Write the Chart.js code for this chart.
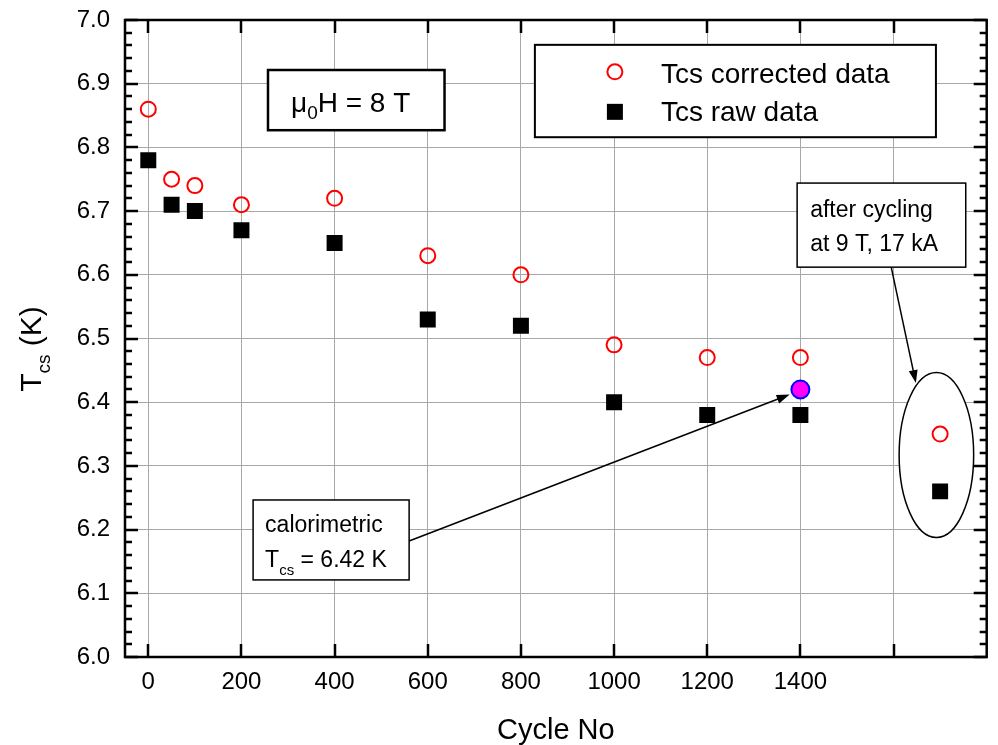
<!DOCTYPE html>
<html>
<head>
<meta charset="utf-8">
<script src="https://cdn.jsdelivr.net/npm/chart.js@4"></script>
<style>
  html, body { margin: 0; padding: 0; background: #fff; }
  #wrap { width: 998px; height: 745px; }
</style>
</head>
<body>
<div id="wrap"><canvas id="chart" width="998" height="745"></canvas></div>
<script>
// ── Data ─────────────────────────────────────────────────────────────────────
const cycles = [0, 50, 100, 200, 400, 600, 800, 1000, 1200, 1400, 1700];
const tcsCorrected = [6.86, 6.75, 6.74, 6.71, 6.72, 6.63, 6.60, 6.49, 6.47, 6.47, 6.35];
const tcsRaw = [6.78, 6.71, 6.70, 6.67, 6.65, 6.53, 6.52, 6.40, 6.38, 6.38, 6.26];
const calorimetricCycle = [1400];
const calorimetricTcs = [6.42];

const xTickValues = [0, 200, 400, 600, 800, 1000, 1200, 1400, 1600];
const xTickLabels = ['0', '200', '400', '600', '800', '1000', '1200', '1400', ''];
const yTickValues = [6.0, 6.1, 6.2, 6.3, 6.4, 6.5, 6.6, 6.7, 6.8, 6.9, 7.0];

const FONT = "'Liberation Sans', Arial, sans-serif";

// ── Helpers ──────────────────────────────────────────────────────────────────
function richText(ctx, parts, x, y) {
  // parts: [{t, size, dy}] drawn left to right from x on baseline y
  let cx = x;
  for (const p of parts) {
    ctx.font = `${p.size}px ${FONT}`;
    ctx.fillText(p.t, cx, y + (p.dy || 0));
    cx += ctx.measureText(p.t).width;
  }
  return cx - x;
}

function richWidth(ctx, parts) {
  let w = 0;
  for (const p of parts) {
    ctx.font = `${p.size}px ${FONT}`;
    w += ctx.measureText(p.t).width;
  }
  return w;
}

function arrow(ctx, x1, y1, x2, y2) {
  const a = Math.atan2(y2 - y1, x2 - x1);
  const len = 13, half = 4.5;
  ctx.beginPath();
  ctx.moveTo(x1, y1);
  ctx.lineTo(x2 - Math.cos(a) * len * 0.8, y2 - Math.sin(a) * len * 0.8);
  ctx.stroke();
  ctx.beginPath();
  ctx.moveTo(x2, y2);
  ctx.lineTo(x2 - Math.cos(a) * len + Math.sin(a) * half, y2 - Math.sin(a) * len - Math.cos(a) * half);
  ctx.lineTo(x2 - Math.cos(a) * len - Math.sin(a) * half, y2 - Math.sin(a) * len + Math.cos(a) * half);
  ctx.closePath();
  ctx.fill();
}

function box(ctx, x1, y1, x2, y2, lw) {
  ctx.fillStyle = '#fff';
  ctx.fillRect(x1, y1, x2 - x1, y2 - y1);
  ctx.lineWidth = lw;
  ctx.strokeStyle = '#000';
  ctx.strokeRect(x1, y1, x2 - x1, y2 - y1);
}

// ── Annotations (behind the points) ──────────────────────────────────────────
const annotations = {
  id: 'annotations',
  beforeDatasetsDraw(chart) {
    const { ctx, scales: { x, y } } = chart;
    const X = v => x.getPixelForValue(v);
    const Y = v => y.getPixelForValue(v);
    ctx.save();
    ctx.fillStyle = '#000';
    ctx.textBaseline = 'alphabetic';
    ctx.textAlign = 'left';

    // μ0H = 8 T
    let l = X(257), t = Y(6.9215);
    box(ctx, l, t, X(636), Y(6.827), 2.5);
    ctx.fillStyle = '#000';
    richText(ctx, [
      { t: 'μ', size: 28 },
      { t: '0', size: 19, dy: 7 },
      { t: 'H = 8 T', size: 28 }
    ], l + 23, t + 42);

    // legend
    l = X(830); t = Y(6.961);
    box(ctx, l, t, X(1691), Y(6.816), 2);
    ctx.lineWidth = 2;
    ctx.strokeStyle = '#ff0000';
    ctx.beginPath();
    ctx.arc(l + 80, t + 27, 7.5, 0, Math.PI * 2);
    ctx.stroke();
    ctx.fillStyle = '#000';
    ctx.fillRect(l + 72, t + 59, 16, 16);
    ctx.font = `28px ${FONT}`;
    ctx.fillText('Tcs corrected data', l + 126, t + 38);
    ctx.fillText('Tcs raw data', l + 126, t + 76);

    // calorimetric box + arrow
    ctx.strokeStyle = '#000';
    ctx.fillStyle = '#000';
    ctx.lineWidth = 1.5;
    arrow(ctx, X(560), Y(6.182), X(1377), Y(6.412));
    l = X(225); t = Y(6.2465);
    box(ctx, l, t, X(560), Y(6.121), 1.5);
    ctx.fillStyle = '#000';
    ctx.font = `23px ${FONT}`;
    ctx.fillText('calorimetric', l + 12, t + 32);
    richText(ctx, [
      { t: 'T', size: 23 },
      { t: 'cs', size: 15, dy: 8 },
      { t: ' = 6.42 K', size: 23 }
    ], l + 12, t + 67);

    // after cycling box + arrow + ellipse
    ctx.strokeStyle = '#000';
    ctx.fillStyle = '#000';
    ctx.lineWidth = 1.5;
    arrow(ctx, X(1595), Y(6.612), X(1648), Y(6.430));
    l = X(1393); t = Y(6.744);
    box(ctx, l, t, X(1755), Y(6.612), 1.5);
    ctx.fillStyle = '#000';
    ctx.font = `23px ${FONT}`;
    ctx.fillText('after cycling', l + 13, t + 34);
    ctx.fillText('at 9 T, 17 kA', l + 13, t + 68);

    const cx = X(1692), cy = Y(6.317);
    const rx = X(1692 + 80) - cx, ry = Y(6.317 - 0.1295) - cy;
    ctx.beginPath();
    ctx.ellipse(cx, cy, rx, ry, 0, 0, Math.PI * 2);
    ctx.fillStyle = '#fff';
    ctx.fill();
    ctx.lineWidth = 1.5;
    ctx.strokeStyle = '#000';
    ctx.stroke();
    ctx.restore();
  },

  // frame, inward ticks and the y title
  afterDraw(chart) {
    const { ctx, chartArea: a, scales: { x, y } } = chart;
    ctx.save();
    ctx.strokeStyle = '#000';
    ctx.lineWidth = 2.5;

    ctx.beginPath();
    for (let i = 0; i <= 50; i++) {
      const v = 6 + i * 0.02;
      const py = Math.round(y.getPixelForValue(v));
      const len = i % 5 === 0 ? 13 : 7;
      ctx.moveTo(a.left, py); ctx.lineTo(a.left + len, py);
      ctx.moveTo(a.right, py); ctx.lineTo(a.right - len, py);
    }
    for (const v of xTickValues) {
      const px = Math.round(x.getPixelForValue(v));
      ctx.moveTo(px, a.bottom); ctx.lineTo(px, a.bottom - 13);
      ctx.moveTo(px, a.top); ctx.lineTo(px, a.top + 13);
    }
    ctx.stroke();
    ctx.strokeRect(a.left, a.top, a.right - a.left, a.bottom - a.top);

    // y title: T_cs (K)
    const parts = [
      { t: 'T', size: 30 },
      { t: 'cs', size: 19, dy: 9 },
      { t: ' (K)', size: 30 }
    ];
    const w = richWidth(ctx, parts);
    ctx.translate(41, 349);
    ctx.rotate(-Math.PI / 2);
    ctx.fillStyle = '#000';
    ctx.textBaseline = 'alphabetic';
    richText(ctx, parts, -w / 2, 0);
    ctx.restore();
  }
};

// ── Chart ────────────────────────────────────────────────────────────────────
new Chart(document.getElementById('chart').getContext('2d'), {
  type: 'scatter',
  data: {
    datasets: [
      {
        label: 'Tcs corrected data',
        data: cycles.map((c, i) => ({ x: c, y: tcsCorrected[i] })),
        pointStyle: 'circle',
        pointRadius: 7.5,
        borderColor: '#ff0000',
        borderWidth: 2,
        backgroundColor: 'rgba(255,255,255,0)'
      },
      {
        label: 'Tcs raw data',
        data: cycles.map((c, i) => ({ x: c, y: tcsRaw[i] })),
        pointStyle: 'rect',
        pointRadius: 11.3,
        borderWidth: 0,
        borderColor: '#000',
        backgroundColor: '#000'
      },
      {
        label: 'calorimetric',
        data: calorimetricCycle.map((c, i) => ({ x: c, y: calorimetricTcs[i] })),
        pointStyle: 'circle',
        pointRadius: 9,
        borderWidth: 2,
        borderColor: '#0000ff',
        backgroundColor: '#ff00ff'
      }
    ]
  },
  options: {
    responsive: false,
    animation: false,
    layout: { padding: { top: 20, right: 7, left: 0, bottom: 0 } },
    plugins: {
      legend: { display: false },
      tooltip: { enabled: false }
    },
    scales: {
      x: {
        type: 'linear',
        min: -50,
        max: 1800,
        afterBuildTicks: s => { s.ticks = xTickValues.map(v => ({ value: v })); },
        afterFit: s => { s.height = 88; s.paddingLeft = 0; s.paddingRight = 0; },
        ticks: {
          color: '#000',
          font: { family: FONT, size: 24 },
          padding: 11,
          maxRotation: 0,
          callback: (v) => xTickLabels[xTickValues.indexOf(v)] ?? ''
        },
        grid: { color: '#a8a8a8', lineWidth: 1, drawTicks: false },
        border: { display: false },
        title: {
          display: true,
          text: 'Cycle No',
          color: '#000',
          font: { family: FONT, size: 29, lineHeight: 1 },
          padding: { top: 0, bottom: 0 }
        }
      },
      y: {
        min: 6.0,
        max: 7.0,
        afterBuildTicks: s => { s.ticks = yTickValues.map(v => ({ value: v })); },
        afterFit: s => { s.width = 125; s.paddingTop = 0; s.paddingBottom = 0; },
        ticks: {
          color: '#000',
          font: { family: FONT, size: 24 },
          padding: 15,
          callback: v => v.toFixed(1)
        },
        grid: { color: '#a8a8a8', lineWidth: 1, drawTicks: false },
        border: { display: false }
      }
    }
  },
  plugins: [annotations]
});
</script>
</body>
</html>
